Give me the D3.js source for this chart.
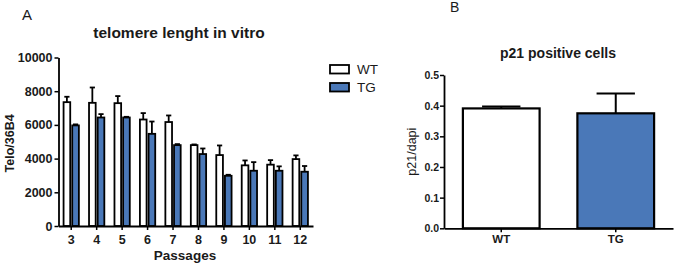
<!DOCTYPE html>
<html>
<head>
<meta charset="utf-8">
<script src="https://cdn.jsdelivr.net/npm/d3@7"></script>
<style>
  body { margin: 0; background: #fff; }
  svg { display: block; font-family: "Liberation Sans", Arial, sans-serif; }
</style>
</head>
<body>
<div id="chart"></div>
<script>
// Datos panel A: longitud de telómeros por pase
const passages = ["3", "4", "5", "6", "7", "8", "9", "10", "11", "12"]
const wtMean = [7350, 7310, 7290, 6320, 6170, 4800, 4210, 3600, 3640, 3970]
const wtErr  = [320, 910, 420, 380, 390, 40, 570, 290, 270, 220]
const tgMean = [5970, 6440, 6440, 5470, 4800, 4270, 2980, 3280, 3280, 3220]
const tgErr  = [60, 200, 40, 730, 60, 330, 60, 510, 260, 340]
const yTicksA = [0, 2000, 4000, 6000, 8000, 10000]

// Datos panel B: células p21 positivas
const groupsB = ["WT", "TG"]
const p21Mean = [0.391, 0.375]
const p21Err  = [0.006, 0.065]
const yTicksB = [0, 0.1, 0.2, 0.3, 0.4, 0.5]

const series = ["WT", "TG"]
const fills = { WT: "#ffffff", TG: "#4a78b8" }
const ink = "#1a1a1a"

const width = 675, height = 266
const svg = d3.select("#chart").append("svg")
    .attr("width", width)
    .attr("height", height)
    .attr("viewBox", [0, 0, width, height])

// ---------- Panel A ----------
const xA = d3.scaleBand().domain(passages).range([58.5, 313]).paddingInner(0.32).paddingOuter(0.16)
const xInner = d3.scaleBand().domain(series).range([0, xA.bandwidth()])
const yA = d3.scaleLinear().domain([0, 10000]).range([226, 57.5])

const rowsA = passages.map((p, i) => ({
    p,
    vals: [
        { s: "WT", v: wtMean[i], e: wtErr[i] },
        { s: "TG", v: tgMean[i], e: tgErr[i] }
    ]
}))

const gA = svg.append("g")

const bars = gA.selectAll("g.pass")
    .data(rowsA)
    .join("g")
    .attr("class", "pass")
    .attr("transform", d => `translate(${xA(d.p)},0)`)
    .selectAll("g")
    .data(d => d.vals)
    .join("g")

// barras de error (solo hacia arriba)
bars.append("line")
    .attr("x1", d => xInner(d.s) + xInner.bandwidth() / 2)
    .attr("x2", d => xInner(d.s) + xInner.bandwidth() / 2)
    .attr("y1", d => yA(d.v))
    .attr("y2", d => yA(d.v + d.e))
    .attr("stroke", "#000").attr("stroke-width", 1.8)
bars.append("line")
    .attr("x1", d => xInner(d.s) + xInner.bandwidth() * 0.2)
    .attr("x2", d => xInner(d.s) + xInner.bandwidth() * 0.8)
    .attr("y1", d => yA(d.v + d.e))
    .attr("y2", d => yA(d.v + d.e))
    .attr("stroke", "#000").attr("stroke-width", 1.8)

bars.append("rect")
    .attr("x", d => xInner(d.s) + 1)
    .attr("width", xInner.bandwidth() - 2)
    .attr("y", d => yA(d.v))
    .attr("height", d => yA(0) - yA(d.v))
    .attr("fill", d => fills[d.s])
    .attr("stroke", "#000")
    .attr("stroke-width", 1.8)

const axA = gA.append("g")
    .attr("transform", `translate(0,${yA(0)})`)
    .call(d3.axisBottom(xA).tickSize(4).tickSizeOuter(0))
const ayA = gA.append("g")
    .attr("transform", `translate(${xA.range()[0]},0)`)
    .call(d3.axisLeft(yA).tickValues(yTicksA).tickSize(4).tickSizeOuter(0).tickFormat(d3.format("d")))

;[axA, ayA].forEach(a => {
    a.select(".domain").attr("stroke", "#000").attr("stroke-width", 1.8)
    a.selectAll(".tick line").attr("stroke", "#000").attr("stroke-width", 1.5)
    a.selectAll("text").attr("fill", ink).attr("font-size", 12.5).attr("font-weight", "bold")
        .attr("font-family", "Liberation Sans, Arial, sans-serif")
})
axA.selectAll("text").attr("y", 17.5).attr("dy", null)
ayA.selectAll("text").attr("x", -6)

gA.append("text").attr("x", 22).attr("y", 20).attr("font-size", 15).attr("fill", ink).text("A")
gA.append("text").attr("x", 179).attr("y", 37.5).attr("text-anchor", "middle")
    .attr("font-size", 15.5).attr("font-weight", "bold").attr("fill", ink)
    .text("telomere lenght in vitro")
gA.append("text")
    .attr("transform", `translate(14,${yA(4900)}) rotate(-90)`)
    .attr("text-anchor", "middle").attr("font-size", 12.5).attr("font-weight", "bold").attr("fill", ink)
    .text("Telo/36B4")
gA.append("text").attr("x", 185).attr("y", 260).attr("text-anchor", "middle")
    .attr("font-size", 13.5).attr("font-weight", "bold").attr("fill", ink)
    .text("Passages")

// leyenda
const legend = svg.append("g").attr("transform", "translate(330,65)")
    .selectAll("g")
    .data(series)
    .join("g")
    .attr("transform", (d, i) => `translate(0,${i * 18})`)
legend.append("rect")
    .attr("width", 19).attr("height", 8.5)
    .attr("fill", d => fills[d]).attr("stroke", "#000").attr("stroke-width", 1.8)
legend.append("text")
    .attr("x", 27).attr("y", 9)
    .attr("font-size", 13.5).attr("fill", ink)
    .text(d => d)

// ---------- Panel B ----------
const xB = d3.scaleBand().domain(groupsB).range([444, 673]).paddingInner(0.33).paddingOuter(0.165)
const yB = d3.scaleLinear().domain([0, 0.5]).range([228.3, 75])
const rowsB = groupsB.map((g, i) => ({ s: g, v: p21Mean[i], e: p21Err[i] }))

const gB = svg.append("g")
const bb = gB.selectAll("g.bar").data(rowsB).join("g").attr("class", "bar")
bb.append("line")
    .attr("x1", d => xB(d.s) + xB.bandwidth() / 2)
    .attr("x2", d => xB(d.s) + xB.bandwidth() / 2)
    .attr("y1", d => yB(d.v))
    .attr("y2", d => yB(d.v + d.e))
    .attr("stroke", "#000").attr("stroke-width", 2)
bb.append("line")
    .attr("x1", d => xB(d.s) + xB.bandwidth() * 0.25)
    .attr("x2", d => xB(d.s) + xB.bandwidth() * 0.75)
    .attr("y1", d => yB(d.v + d.e))
    .attr("y2", d => yB(d.v + d.e))
    .attr("stroke", "#000").attr("stroke-width", 2)
bb.append("rect")
    .attr("x", d => xB(d.s))
    .attr("width", xB.bandwidth())
    .attr("y", d => yB(d.v))
    .attr("height", d => yB(0) - yB(d.v))
    .attr("fill", d => fills[d.s])
    .attr("stroke", "#000").attr("stroke-width", 2.2)

const axB = gB.append("g")
    .attr("transform", `translate(0,${yB(0)})`)
    .call(d3.axisBottom(xB).tickSize(4).tickSizeOuter(0))
const ayB = gB.append("g")
    .attr("transform", `translate(${xB.range()[0]},0)`)
    .call(d3.axisLeft(yB).tickValues(yTicksB).tickSize(4).tickSizeOuter(0).tickFormat(d3.format(".1f")))

;[axB, ayB].forEach(a => {
    a.select(".domain").attr("stroke", "#000").attr("stroke-width", 1.8)
    a.selectAll(".tick line").attr("stroke", "#000").attr("stroke-width", 1.5)
    a.selectAll("text").attr("fill", ink).attr("font-size", 10.5).attr("font-weight", "bold")
        .attr("font-family", "Liberation Sans, Arial, sans-serif")
})
axB.selectAll("text").attr("y", 14.5).attr("dy", null).attr("font-size", 11.5)
ayB.selectAll("text").attr("x", -5)

gB.append("text").attr("x", 450).attr("y", 12).attr("font-size", 14).attr("fill", ink).text("B")
gB.append("text").attr("x", 558).attr("y", 58).attr("text-anchor", "middle")
    .attr("font-size", 14).attr("font-weight", "bold").attr("fill", ink)
    .text("p21 positive cells")
gB.append("text")
    .attr("transform", `translate(416,${yB(0.25)}) rotate(-90)`)
    .attr("text-anchor", "middle").attr("font-size", 12.5).attr("fill", ink)
    .text("p21/dapi")
</script>
</body>
</html>
